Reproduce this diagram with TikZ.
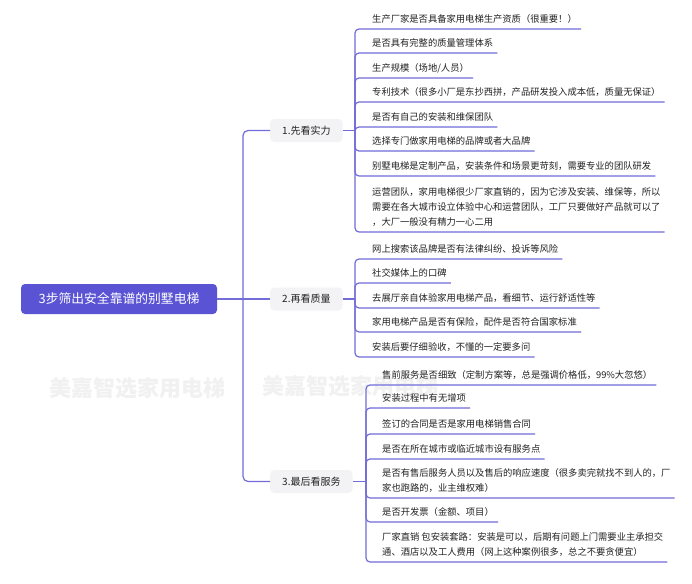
\documentclass[tikz,border=0pt]{standalone}
\usepackage{fontspec}
\setmainfont{Noto Sans CJK SC}
\definecolor{rootc}{HTML}{5A54D4}
\definecolor{linec}{HTML}{736DDA}
\definecolor{boxc}{HTML}{F3F3F6}
\definecolor{txt}{HTML}{222222}
\definecolor{wm}{HTML}{F1F1F1}
\begin{document}
\begin{tikzpicture}[x=1pt,y=-1pt,
 conn/.style={draw=linec, line width=1.2pt},
 rootbox/.style={fill=rootc, rounded corners=4pt, text=white, font=\fontsize{12.8}{15}\selectfont, minimum width=196pt, minimum height=30pt, inner sep=0pt},
 branch/.style={fill=boxc, rounded corners=4pt, text=txt, font=\fontsize{10}{12}\selectfont, inner xsep=12pt, inner ysep=0pt, minimum height=23pt, anchor=west},
 leaf/.style={anchor=south west, inner xsep=4pt, inner ysep=2.2pt, align=left, text=txt, font=\fontsize{9.3}{14.8}\selectfont, execute at begin node=\strut, execute at end node=\strut},
 wmark/.style={text=wm, font=\fontsize{22}{24}\selectfont\bfseries}
]
\useasboundingbox (0,0) rectangle (692,583);
\fill[white] (0,0) rectangle (692,583);
% watermarks
\node[wmark] (wm1) at (137,388) {美嘉智选家用电梯};
\node[wmark, anchor=west] (wm2) at (259,386) {美嘉智选家用电梯};
% root and branches
\node[rootbox] (root) at (119,299) {3步筛出安全靠谱的别墅电梯};
\node[branch] (b1) at (270,130.5) {1.先看实力};
\node[branch] (b2) at (270,299) {2.再看质量};
\node[branch] (b3) at (270,481.5) {3.最后看服务};
\coordinate (t) at (243,299);
\coordinate (j1) at (355,130.5);
\coordinate (j2) at (355,299);
\coordinate (j3) at (366,481.5);
% group 1
\node[leaf] (l1a) at (368,29) {生产厂家是否具备家用电梯生产资质（很重要！）};
\node[leaf] (l1b) at (368,53) {是否具有完整的质量管理体系};
\node[leaf] (l1c) at (368,78) {生产规模（场地/人员）};
\node[leaf] (l1d) at (368,102) {专利技术（很多小厂是东抄西拼，产品研发投入成本低，质量无保证）};
\node[leaf] (l1e) at (368,127) {是否有自己的安装和维保团队};
\node[leaf] (l1f) at (368,151) {选择专门做家用电梯的品牌或者大品牌};
\node[leaf] (l1g) at (368,176) {别墅电梯是定制产品，安装条件和场景更苛刻，需要专业的团队研发};
\node[leaf] (l1h) at (368,232) {运营团队，家用电梯很少厂家直销的，因为它涉及安装、维保等，所以\\需要在各大城市设立体验中心和运营团队，工厂只要做好产品就可以了\\，大厂一般没有精力一心二用};
% group 2
\node[leaf] (l2a) at (368,259) {网上搜索该品牌是否有法律纠纷、投诉等风险};
\node[leaf] (l2b) at (368,283) {社交媒体上的口碑};
\node[leaf] (l2c) at (368,308) {去展厅亲自体验家用电梯产品，看细节、运行舒适性等};
\node[leaf] (l2d) at (368,332) {家用电梯产品是否有保险，配件是否符合国家标准};
\node[leaf] (l2e) at (368,357) {安装后要仔细验收，不懂的一定要多问};
% group 3
\node[leaf] (l3a) at (378,385) {售前服务是否细致（定制方案等，总是强调价格低，99\%大忽悠）};
\node[leaf] (l3b) at (378,408) {安装过程中有无增项};
\node[leaf] (l3c) at (378,434) {签订的合同是否是家用电梯销售合同};
\node[leaf] (l3d) at (378,459) {是否在所在城市或临近城市设有服务点};
\node[leaf] (l3e) at (378,498) {是否有售后服务人员以及售后的响应速度（很多卖完就找不到人的，厂\\家也跑路的，业主维权难）};
\node[leaf] (l3f) at (378,522) {是否开发票（金额、项目）};
\node[leaf] (l3g) at (378,562) {厂家直销 包安装套路：安装是可以，后期有问题上门需要业主承担交\\通、酒店以及工人费用（网上这种案例很多，总之不要贪便宜）};
% connectors
\draw[conn] (root.east) -- (b2.west);
\draw[conn, rounded corners=5pt] (t) |- (b1.west);
\draw[conn, rounded corners=5pt] (t) |- (b3.west);
\draw[conn] (b1.east) -- (j1);
\draw[conn] (b2.east) -- (j2);
\draw[conn] (b3.east) -- (j3);
\foreach \n in {l1a,l1b,l1c,l1d,l1e,l1f,l1g,l1h}
  \draw[conn, rounded corners=4pt] (j1) |- (\n.south west) -- (\n.south east);
\foreach \n in {l2a,l2b,l2c,l2d,l2e}
  \draw[conn, rounded corners=4pt] (j2) |- (\n.south west) -- (\n.south east);
\foreach \n in {l3a,l3b,l3c,l3d,l3e,l3f,l3g}
  \draw[conn, rounded corners=4pt] (j3) |- (\n.south west) -- (\n.south east);
\end{tikzpicture}
\end{document}
